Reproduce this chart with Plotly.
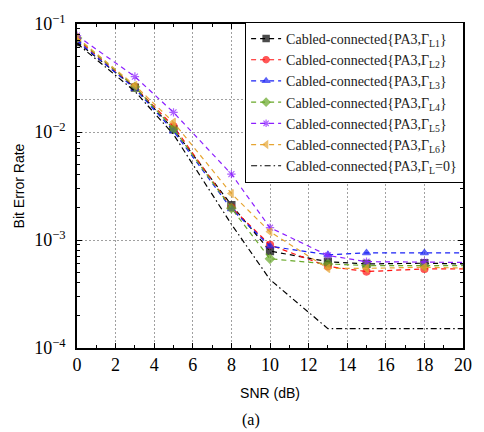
import plotly.graph_objects as go

# SNR sample points (dB)
snr = [0, 3, 5, 8, 10, 13, 15, 18, 20]

# Bit error rate for each load condition
ber_L1 = [0.068, 0.0258, 0.0106, 0.00211, 0.00079, 0.00063, 0.00060, 0.00061, 0.00060]
ber_L2 = [0.072, 0.0262, 0.0113, 0.00200, 0.00090, 0.00057, 0.00051, 0.00054, 0.00054]
ber_L3 = [0.070, 0.0252, 0.0102, 0.00194, 0.000875, 0.00073, 0.00076, 0.00076, 0.00076]
ber_L4 = [0.074, 0.0262, 0.0107, 0.00197, 0.00067, 0.00060, 0.00058, 0.00058, 0.00058]
ber_L5 = [0.078, 0.0326, 0.0152, 0.00407, 0.00130, 0.00072, 0.00063, 0.00063, 0.00062]
ber_L6 = [0.075, 0.0270, 0.0123, 0.00269, 0.00119, 0.000546, 0.000546, 0.00056, 0.00055]
ber_L0 = [0.066, 0.0238, 0.0095, 0.00140, 0.00043, 0.000151, 0.000151, 0.000151, 0.000151]

series_names = [
    "Cabled-connected{PA3,Γ<sub>L1</sub>}",
    "Cabled-connected{PA3,Γ<sub>L2</sub>}",
    "Cabled-connected{PA3,Γ<sub>L3</sub>}",
    "Cabled-connected{PA3,Γ<sub>L4</sub>}",
    "Cabled-connected{PA3,Γ<sub>L5</sub>}",
    "Cabled-connected{PA3,Γ<sub>L6</sub>}",
    "Cabled-connected{PA3,Γ<sub>L</sub>=0}",
]

y_tick_vals = [1e-4, 1e-3, 1e-2, 1e-1]
y_tick_text = ["10<sup>−4</sup>", "10<sup>−3</sup>", "10<sup>−2</sup>", "10<sup>−1</sup>"]
x_tick_vals = [0, 2, 4, 6, 8, 10, 12, 14, 16, 18, 20]

# minor log ticks: 2..9 within each decade
y_minor_vals = [m * d for d in (1e-4, 1e-3, 1e-2) for m in range(2, 10)]

styles = [
    ("black", "square"),
    ("#ff1010", "circle"),
    ("#1a22f5", "triangle-up"),
    ("#68a828", "diamond"),
    ("#8c1fff", "asterisk-open"),
    ("#e6a532", "triangle-left"),
]

fig = go.Figure()

# extra dotted reference line at 2e-2
fig.add_trace(go.Scatter(
    x=[0, 20], y=[0.02, 0.02], mode="lines", showlegend=False, hoverinfo="skip",
    line=dict(color="#a0a0a0", width=1, dash="2px,2px"),
))

marker_sizes = [7, 7, 7, 7, 7, 7, 7, 7, 0]
for ys, name, (col, sym) in zip(
    [ber_L1, ber_L2, ber_L3, ber_L4, ber_L5, ber_L6], series_names[:6], styles
):
    fig.add_trace(go.Scatter(
        x=snr, y=ys, name=name, mode="lines+markers",
        line=dict(color=col, width=1.2, dash="5px,4px"),
        marker=dict(symbol=sym, size=marker_sizes, color=col,
                    line=dict(color=col, width=1.2)),
    ))

fig.add_trace(go.Scatter(
    x=snr, y=ber_L0, name=series_names[6], mode="lines",
    line=dict(color="black", width=1.2, dash="6px,3px,1.5px,3px"),
))

fig.update_layout(
    width=484, height=432,
    margin=dict(l=77, r=15, t=16, b=84),
    paper_bgcolor="white", plot_bgcolor="white",
    font=dict(family="Liberation Serif", color="black"),
    showlegend=True,
    legend=dict(
        x=0.435, y=1.007, xanchor="left", yanchor="top",
        bgcolor="white", bordercolor="black", borderwidth=1.2,
        font=dict(family="Liberation Serif", size=14, color="#222"),
        tracegroupgap=0, itemwidth=30,
    ),
    annotations=[dict(
        text="(a)", x=0.45, y=-0.222, xref="paper", yref="paper",
        xanchor="center", yanchor="middle", showarrow=False,
        font=dict(family="Liberation Serif", size=16, color="black"),
    )],
)

fig.update_xaxes(
    range=[0, 20], tickvals=x_tick_vals,
    ticks="inside", ticklen=5, tickwidth=1.2, tickcolor="black",
    minor=dict(dtick=1, ticks="inside", ticklen=3, tickcolor="black", showgrid=False),
    showline=True, linecolor="black", linewidth=1.5, mirror="ticks",
    showgrid=True, gridcolor="#a0a0a0", griddash="2px,2px", gridwidth=1,
    zeroline=False,
    tickfont=dict(family="Liberation Serif", size=18),
    title=dict(text="SNR (dB)", font=dict(family="Liberation Sans", size=14), standoff=14),
)

fig.update_yaxes(
    type="log", range=[-4, -1], tickvals=y_tick_vals, ticktext=y_tick_text,
    ticks="inside", ticklen=5, tickwidth=1.2, tickcolor="black",
    minor=dict(tickvals=y_minor_vals, ticks="inside", ticklen=3, tickcolor="black", showgrid=False),
    showline=True, linecolor="black", linewidth=1.5, mirror="ticks",
    showgrid=True, gridcolor="#a0a0a0", griddash="2px,2px", gridwidth=1,
    zeroline=False, ticklabelstandoff=6,
    tickfont=dict(family="Liberation Serif", size=18),
    title=dict(text="Bit Error Rate", font=dict(family="Liberation Sans", size=14), standoff=6),
)

fig.write_html("out.html")
